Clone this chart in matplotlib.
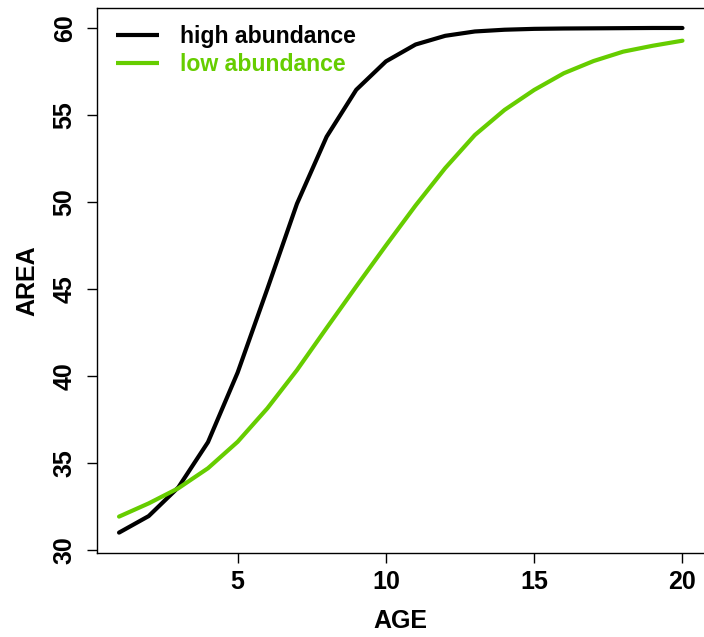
import matplotlib
matplotlib.use("Agg")
import matplotlib.pyplot as plt

age = list(range(1, 21))
high = [31.0, 31.95, 33.6, 36.2, 40.2, 45.0, 49.9, 53.75, 56.45, 58.08,
        59.05, 59.55, 59.8, 59.9, 59.95, 59.97, 59.98, 59.99, 60.0, 60.0]
low = [31.92, 32.68, 33.55, 34.7, 36.22, 38.14, 40.34, 42.76, 45.15, 47.5,
       49.8, 51.95, 53.85, 55.29, 56.44, 57.4, 58.1, 58.64, 58.98, 59.27]
labels = ["high abundance", "low abundance"]
xticks = [5, 10, 15, 20]
yticks = [30, 35, 40, 45, 50, 55, 60]

plt.rcParams['font.family'] = ['Liberation Sans', 'DejaVu Sans']
plt.rcParams['font.weight'] = 'bold'

W, H = 704, 637
fig = plt.figure(figsize=(W/100, H/100), dpi=100)
L, R, T, B = 96.5, 705.0, 7.8, 552.8
ax = fig.add_axes([L/W, 1-B/H, (R-L)/W, (B-T)/H])

green = '#66CD00'
ax.plot(age, high, color='black', lw=3, label=labels[0], solid_capstyle='round')
ax.plot(age, low, color=green, lw=3, label=labels[1], solid_capstyle='round')

ax.set_xlim(0.24, 20.76)
ax.set_ylim(29.84, 61.16)
ax.set_xticks(xticks)
ax.set_yticks(yticks)
ax.tick_params(axis='both', length=7.2, width=1, labelsize=18)
ax.tick_params(axis='x', pad=5)
ax.tick_params(axis='y', pad=7)
for lab in ax.get_yticklabels():
    lab.set_rotation(90)
    lab.set_va('center')
for lab in ax.get_xticklabels() + ax.get_yticklabels():
    lab.set_fontweight('bold')
ax.spines['right'].set_visible(False)
for s in ['left', 'bottom', 'top']:
    ax.spines[s].set_linewidth(1)

ax.set_xlabel('AGE', fontsize=18, fontweight='bold', labelpad=11)
ax.set_ylabel('AREA', fontsize=18, fontweight='bold', labelpad=10)

fs = 16.6
leg = ax.legend(loc='upper left', frameon=False,
                bbox_to_anchor=((116-L)/(R-L), 1-(25-T)/(B-T)),
                handlelength=43/(fs*100/72), handletextpad=21/(fs*100/72),
                borderaxespad=0, borderpad=0, labelspacing=0.2,
                prop={'weight': 'bold', 'size': fs})
for h in leg.get_lines():
    h.set_solid_capstyle('butt')
leg.get_texts()[1].set_color(green)

fig.savefig('out.png', dpi=100)
